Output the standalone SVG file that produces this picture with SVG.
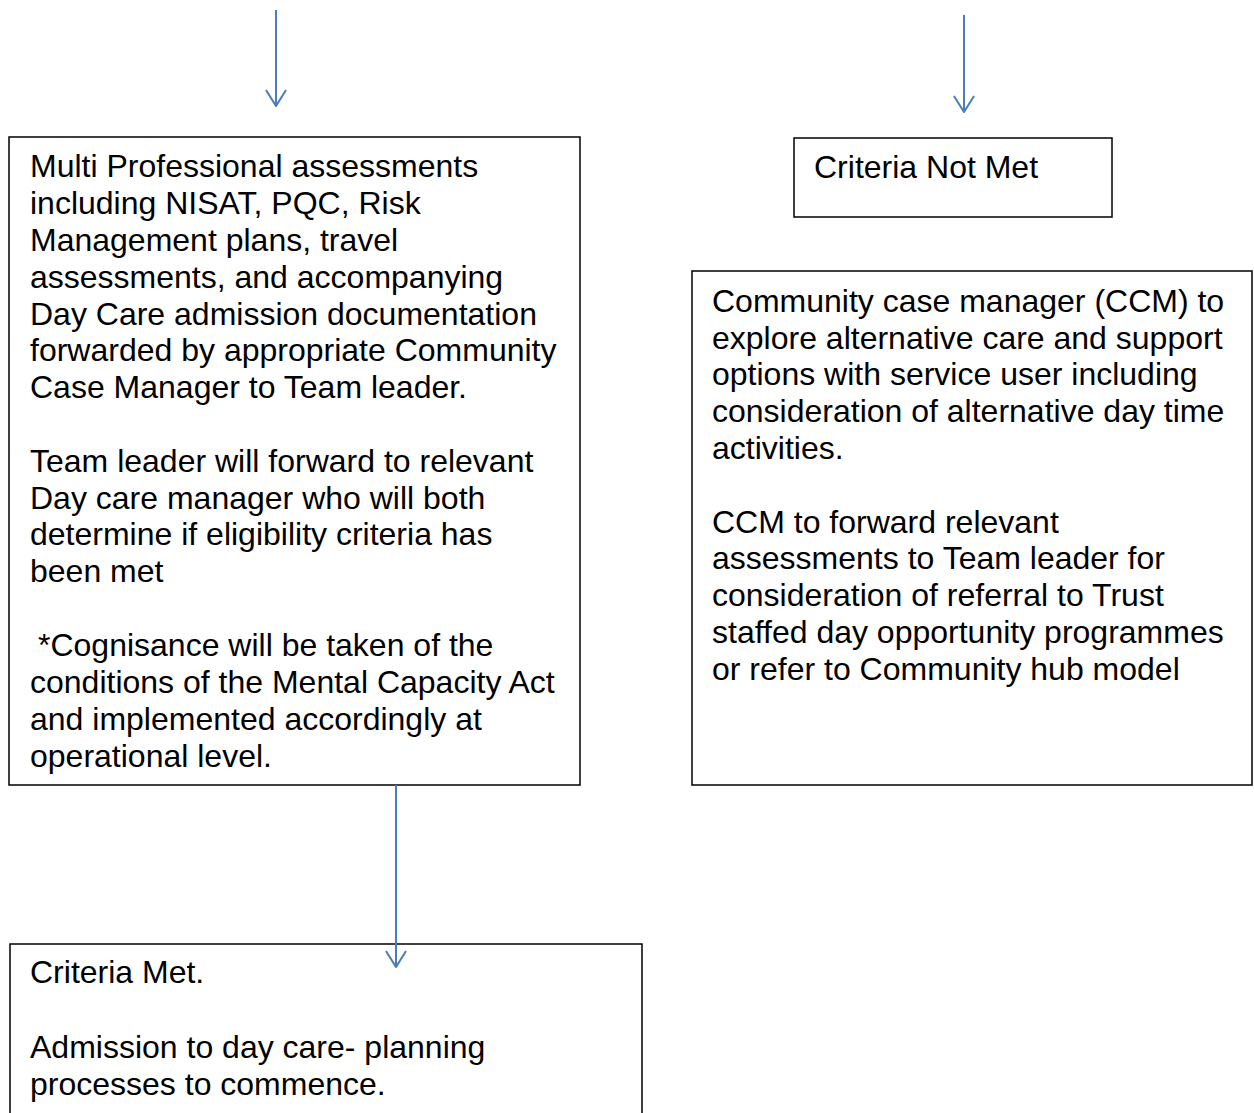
<svg xmlns="http://www.w3.org/2000/svg" width="1254" height="1113" viewBox="0 0 1254 1113">
<defs>
<style>
.box{fill:#fff;stroke:#000;stroke-width:1.5}
.t{font-family:"Liberation Sans",Arial,sans-serif;font-size:32px;fill:#000}
.c{stroke:#4a7ebb;stroke-width:2;fill:none}
</style>
<marker id="ah" viewBox="0 0 18 22" refX="17" refY="11" markerWidth="18" markerHeight="22" markerUnits="userSpaceOnUse" orient="auto">
<path d="M1,1 L17,11 L1,21" fill="none" stroke="#4a7ebb" stroke-width="2"/>
</marker>
</defs>
<rect width="1254" height="1113" fill="#fff"/>
<g id="node-assess">
<rect class="box" x="9" y="137" width="571" height="648"/>
<text class="t">
<tspan x="30" y="177">Multi Professional assessments</tspan>
<tspan x="30" y="214">including NISAT, PQC, Risk</tspan>
<tspan x="30" y="251">Management plans, travel</tspan>
<tspan x="30" y="288">assessments, and accompanying</tspan>
<tspan x="30" y="325">Day Care admission documentation</tspan>
<tspan x="30" y="361">forwarded by appropriate Community</tspan>
<tspan x="30" y="398">Case Manager to Team leader.</tspan>
<tspan x="30" y="472">Team leader will forward to relevant</tspan>
<tspan x="30" y="509">Day care manager who will both</tspan>
<tspan x="30" y="545">determine if eligibility criteria has</tspan>
<tspan x="30" y="582">been met</tspan>
<tspan x="38" y="656">*Cognisance will be taken of the</tspan>
<tspan x="30" y="693">conditions of the Mental Capacity Act</tspan>
<tspan x="30" y="730">and implemented accordingly at</tspan>
<tspan x="30" y="767">operational level.</tspan>
</text>
</g>
<g id="node-notmet">
<rect class="box" x="794" y="138" width="318" height="79"/>
<text class="t" x="814" y="178">Criteria Not Met</text>
</g>
<g id="node-ccm">
<rect class="box" x="692" y="271" width="560" height="514"/>
<text class="t">
<tspan x="712" y="312">Community case manager (CCM) to</tspan>
<tspan x="712" y="349">explore alternative care and support</tspan>
<tspan x="712" y="385">options with service user including</tspan>
<tspan x="712" y="422">consideration of alternative day time</tspan>
<tspan x="712" y="459">activities.</tspan>
<tspan x="712" y="533">CCM to forward relevant</tspan>
<tspan x="712" y="569">assessments to Team leader for</tspan>
<tspan x="712" y="606">consideration of referral to Trust</tspan>
<tspan x="712" y="643">staffed day opportunity programmes</tspan>
<tspan x="712" y="680">or refer to Community hub model</tspan>
</text>
</g>
<g id="node-met">
<rect class="box" x="10" y="944" width="632" height="180"/>
<text class="t">
<tspan x="30" y="983">Criteria Met.</tspan>
<tspan x="30" y="1058">Admission to day care- planning</tspan>
<tspan x="30" y="1095">processes to commence.</tspan>
</text>
</g>
<g id="connectors">
<line class="c" x1="276" y1="10" x2="276" y2="106" marker-end="url(#ah)"/>
<line class="c" x1="964" y1="15" x2="964" y2="112" marker-end="url(#ah)"/>
<line class="c" x1="396" y1="785" x2="396" y2="967" marker-end="url(#ah)"/>
</g>
</svg>
